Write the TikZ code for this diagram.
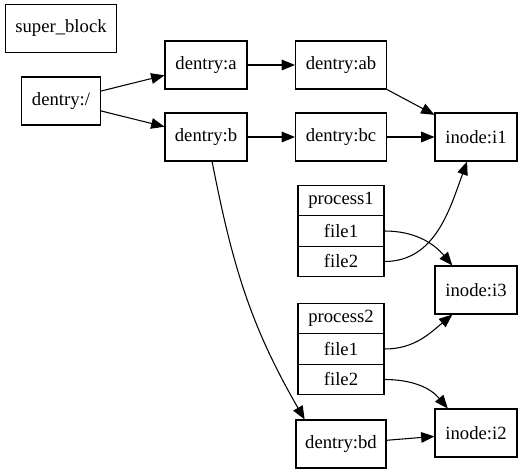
\documentclass[tikz,border=0pt]{standalone}
\usepackage{fontspec}
\setmainfont{LiberationSerif}[Extension=.ttf,UprightFont=*-Regular]
\usetikzlibrary{arrows.meta}
\begin{document}
\begin{tikzpicture}[x=0.75pt,y=0.75pt,
  box/.style={draw,line width=0.8pt,inner sep=0pt,minimum height=36pt,font=\rmfamily\fontsize{14}{16}\selectfont},
  rec/.style={draw,line width=0.8pt,inner sep=0pt,minimum width=64.5pt,minimum height=23pt,font=\rmfamily\fontsize{14}{16}\selectfont},
  conn/.style={line width=0.8pt,-{Triangle[length=10pt,width=8pt]}}]
\useasboundingbox (0,0) rectangle (523,-473);
\node[box,minimum width=83.25pt] (sb) at (61,-28.5) {super\_block};
\node[box,minimum width=59.25pt] (root) at (61,-101) {dentry:/};
\node[box,minimum width=61.5pt] (a) at (206,-65) {dentry:a};
\node[box,minimum width=61.5pt] (b) at (206,-137) {dentry:b};
\node[box,minimum width=68.25pt] (ab) at (341,-65) {dentry:ab};
\node[box,minimum width=68.25pt] (bc) at (341,-137) {dentry:bc};
\node[box,minimum width=61.5pt] (i1) at (476,-137) {inode:i1};
\node[rec] (p1) at (341,-200.5) {process1};
\node[rec] (p1f1) at (341,-231) {file1};
\node[rec] (p1f2) at (341,-261.5) {file2};
\node[box,minimum width=61.5pt] (i3) at (476,-290) {inode:i3};
\node[rec] (p2) at (341,-318.5) {process2};
\node[rec] (p2f1) at (341,-349) {file1};
\node[rec] (p2f2) at (341,-379.5) {file2};
\node[box,minimum width=67.5pt] (bd) at (341,-444) {dentry:bd};
\node[box,minimum width=61.5pt] (i2) at (476,-433) {inode:i2};
\draw[conn] (root) -- (a);
\draw[conn] (root) -- (b);
\draw[conn] (a) -- (ab);
\draw[conn] (b) -- (bc);
\draw[conn] (ab) -- (i1);
\draw[conn] (bc) -- (i1);
\draw[conn] (b.-76) to[out=-79,in=120] (bd.146);
\draw[conn] (p1f2.east) to[out=0,in=-110] (i1.-110);
\draw[conn] (p1f1.east) to[out=0,in=130] (i3.134);
\draw[conn] (p2f1.east) to[out=0,in=-140] (i3.-134);
\draw[conn] (p2f2.east) to[out=0,in=130] (i2.139);
\draw[conn] (bd) -- (i2);
\end{tikzpicture}
\end{document}
